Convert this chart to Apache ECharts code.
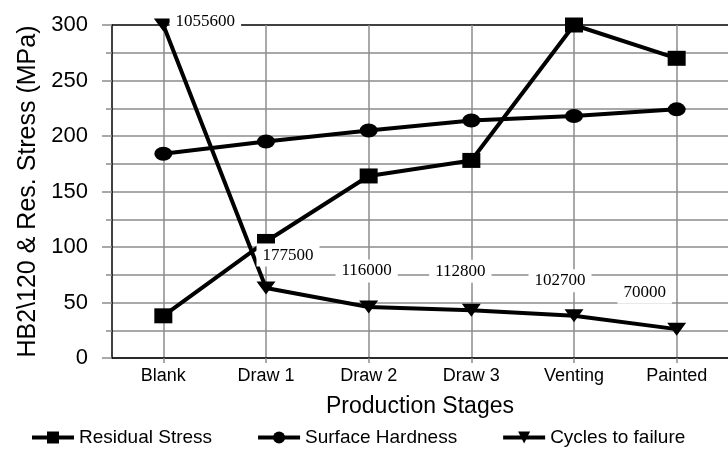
<!DOCTYPE html>
<html>
<head>
<meta charset="utf-8">
<script src="https://cdn.jsdelivr.net/npm/echarts@6/dist/echarts.min.js"></script>
<style>
  html, body { margin: 0; padding: 0; background: #fff; }
  #chart { width: 728px; height: 473px; }
</style>
</head>
<body>
<div id="chart"></div>
<script>
// data
const stages = ["Blank", "Draw 1", "Draw 2", "Draw 3", "Venting", "Painted"];
const residualStress = [38, 105, 164, 178, 300, 270];
const surfaceHardness = [184, 195, 205, 214, 218, 224];
const cyclesPlotted = [300, 63, 46, 43, 38, 26];
const cyclesToFailure = [1055600, 177500, 116000, 112800, 102700, 70000];
const yTicks = [0, 50, 100, 150, 200, 250, 300];

// where each cycles label sits relative to its marker (px)
const labelOffsets = [[42, -3], [22, -33], [-2, -36], [-11, -39], [-14, -35], [-32, -37]];

const grey = "#8c8c8c";
const sans = "Liberation Sans, Arial, sans-serif";
const triangle = "path://M0,0 L20,0 L10,13 Z";

const chart = echarts.init(document.getElementById("chart"));

const lineBase = {
  type: "line",
  lineStyle: { color: "#000", width: 4 },
  itemStyle: { color: "#000" },
  emphasis: { disabled: true },
  animation: false,
};

chart.setOption({
  animation: false,
  textStyle: { fontFamily: sans, color: "#000" },
  grid: { left: 112, top: 25, width: 621, height: 333, containLabel: false },
  legend: {
    left: 30,
    top: 428,
    padding: 0,
    itemWidth: 42,
    itemHeight: 15,
    itemGap: 44,
    lineStyle: { width: 4 },
    textStyle: { fontSize: 19, color: "#000", fontFamily: sans },
    data: ["Residual Stress", "Surface Hardness", "Cycles to failure"],
  },
  xAxis: {
    type: "category",
    data: stages,
    boundaryGap: true,
    name: "Production Stages",
    nameLocation: "middle",
    nameGap: 37,
    nameTextStyle: { fontSize: 23, color: "#000" },
    axisLine: { lineStyle: { color: "#000", width: 1.5 } },
    axisTick: { show: true, alignWithLabel: true, length: 5, lineStyle: { color: grey, width: 1.5 } },
    axisLabel: { fontSize: 18, color: "#000", margin: 9 },
    splitLine: { show: true, alignWithLabel: true, lineStyle: { color: grey, width: 1.5 } },
  },
  yAxis: {
    type: "value",
    min: yTicks[0],
    max: yTicks[yTicks.length - 1],
    interval: 50,
    name: "HB2\\120 & Res. Stress (MPa)",
    nameLocation: "middle",
    nameGap: 70,
    nameTextStyle: { fontSize: 25, color: "#000" },
    axisLine: { show: true, lineStyle: { color: "#000", width: 1.5 } },
    axisTick: { show: true, length: 10, lineStyle: { color: grey, width: 1.5 } },
    minorTick: { show: true, splitNumber: 2, length: 6, lineStyle: { color: grey, width: 1.5 } },
    axisLabel: { fontSize: 22, color: "#000", margin: 24 },
    splitLine: {
      show: true,
      lineStyle: { color: [grey, grey, grey, grey, grey, grey, "#000"], width: 1.5 },
    },
    minorSplitLine: { show: true, lineStyle: { color: grey, width: 1.5 } },
  },
  series: [
    Object.assign({}, lineBase, {
      name: "Residual Stress",
      data: residualStress,
      symbol: "rect",
      symbolSize: [18, 15],
      z: 3,
    }),
    Object.assign({}, lineBase, {
      name: "Surface Hardness",
      data: surfaceHardness,
      symbol: "circle",
      symbolSize: [18, 14],
      z: 3,
    }),
    Object.assign({}, lineBase, {
      name: "Cycles to failure",
      symbol: triangle,
      symbolSize: [19, 13],
      z: 4,
      data: cyclesPlotted.map((v, i) => ({
        value: v,
        label: { offset: labelOffsets[i] },
      })),
      label: {
        show: true,
        position: "inside",
        formatter: (p) => String(cyclesToFailure[p.dataIndex]),
        fontFamily: "Liberation Serif, Times New Roman, serif",
        fontSize: 17,
        color: "#000",
        backgroundColor: "#fff",
        padding: [3, 6],
      },
    }),
  ],
});
</script>
</body>
</html>
